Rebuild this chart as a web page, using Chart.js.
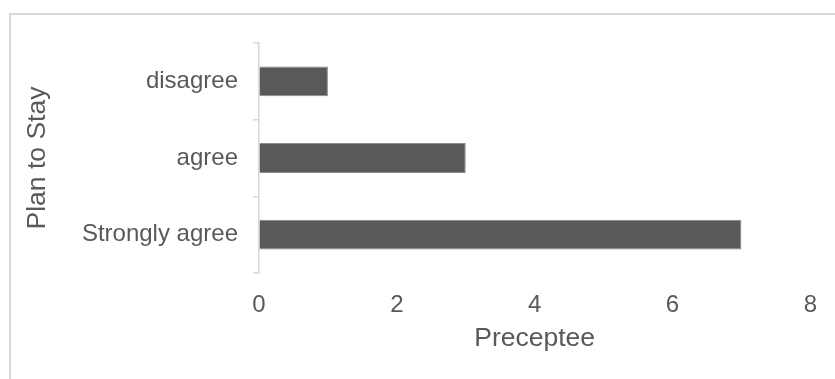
<!DOCTYPE html>
<html>
<head>
<meta charset="utf-8">
<script src="https://cdn.jsdelivr.net/npm/chart.js@4/dist/chart.umd.min.js"></script>
<style>
  html, body { margin: 0; padding: 0; background: #fff; overflow: hidden; }
  #wrap { position: relative; width: 835px; height: 379px; overflow: hidden; }
  #frame { position: absolute; left: 9px; top: 13px; width: 1000px; height: 500px;
           border: 2.5px solid #d9d9d9; box-sizing: border-box; }
  canvas { position: absolute; left: 0; top: 0; }
</style>
</head>
<body>
<div id="wrap">
  <div id="frame"></div>
  <canvas id="c" width="835" height="379"></canvas>
</div>
<script>
// Responses to "Plan to Stay", counted per preceptee
const categories = ['disagree', 'agree', 'Strongly agree'];
const counts = [1, 3, 7];
const xTicks = [0, 2, 4, 6, 8];

const textColor = '#595959';
const lineColor = '#d9d9d9';
const fontFamily = "'Liberation Sans', Arial, sans-serif";

new Chart(document.getElementById('c'), {
  type: 'bar',
  data: {
    labels: categories,
    datasets: [{
      data: counts,
      backgroundColor: '#595959',
      borderColor: '#8a8a8a',
      borderWidth: 1,
      barPercentage: 0.39,
      categoryPercentage: 1.0
    }]
  },
  options: {
    indexAxis: 'y',
    responsive: false,
    animation: false,
    devicePixelRatio: 1,
    layout: { padding: { left: 18, right: 24, top: 43, bottom: 24 } },
    plugins: { legend: { display: false }, tooltip: { enabled: false } },
    scales: {
      x: {
        type: 'linear',
        min: xTicks[0],
        max: xTicks[xTicks.length - 1],
        afterBuildTicks: (scale) => { scale.ticks = xTicks.map(v => ({ value: v })); },
        afterFit: (scale) => { scale.height = 379 - 273 - 24; },
        border: { display: false },
        grid: { display: true, drawOnChartArea: false, drawTicks: false, color: 'transparent' },
        ticks: { color: textColor, padding: 18, font: { family: fontFamily, size: 24 } },
        title: {
          display: true,
          text: 'Preceptee',
          color: textColor,
          padding: { top: 6, bottom: 0 },
          font: { family: fontFamily, size: 26.5 }
        }
      },
      y: {
        type: 'category',
        afterFit: (scale) => { scale.width = 259 - 18; },
        border: { display: true, color: lineColor, width: 1.5 },
        grid: { display: true, offset: true, drawOnChartArea: false, drawTicks: true,
                tickLength: 6, color: lineColor, lineWidth: 1.5 },
        ticks: { color: textColor, padding: 15, font: { family: fontFamily, size: 24 } },
        title: {
          display: true,
          text: 'Plan to Stay',
          color: textColor,
          padding: { top: 4, bottom: 4 },
          font: { family: fontFamily, size: 26.5 }
        }
      }
    }
  }
});
</script>
</body>
</html>
